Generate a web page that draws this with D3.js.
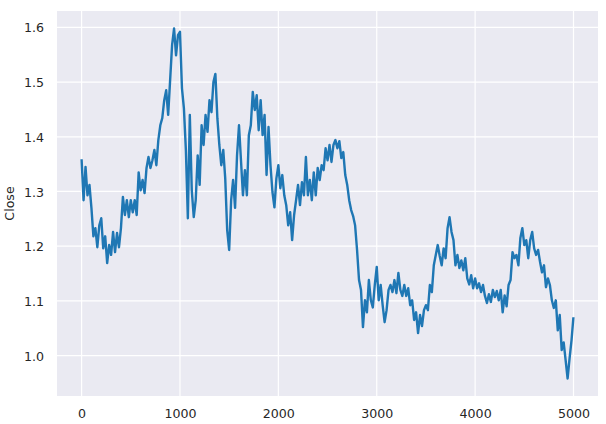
<!DOCTYPE html>
<html>
<head>
<meta charset="utf-8">
<script src="https://cdn.jsdelivr.net/npm/d3@7"></script>
<style>
  html, body { margin: 0; padding: 0; background: #ffffff; }
  svg { display: block; }
</style>
</head>
<body>
<svg id="chart" width="606" height="424"></svg>
<script>
const rowStep = 20;
const closeValues = [
  1.359, 1.284, 1.345, 1.293, 1.312, 1.270, 1.218, 1.233, 1.198, 1.238,
  1.251, 1.196, 1.218, 1.169, 1.202, 1.184, 1.226, 1.189, 1.224, 1.198,
  1.233, 1.290, 1.257, 1.284, 1.253, 1.284, 1.262, 1.284, 1.257, 1.335,
  1.302, 1.321, 1.297, 1.343, 1.363, 1.343, 1.357, 1.376, 1.348, 1.394,
  1.421, 1.434, 1.467, 1.485, 1.440, 1.504, 1.568, 1.598, 1.549, 1.586,
  1.592, 1.489, 1.452, 1.376, 1.251, 1.440, 1.302, 1.253, 1.284, 1.366,
  1.312, 1.421, 1.385, 1.440, 1.409, 1.467, 1.445, 1.500, 1.515, 1.434,
  1.385, 1.348, 1.376, 1.324, 1.229, 1.193, 1.284, 1.321, 1.270, 1.366,
  1.421, 1.357, 1.293, 1.339, 1.293, 1.403, 1.421, 1.482, 1.449, 1.476,
  1.412, 1.467, 1.403, 1.440, 1.330, 1.418, 1.348, 1.299, 1.271, 1.324,
  1.348, 1.306, 1.330, 1.293, 1.275, 1.238, 1.262, 1.211, 1.257, 1.284,
  1.312, 1.275, 1.317, 1.293, 1.363, 1.293, 1.321, 1.284, 1.335, 1.293,
  1.343, 1.321, 1.348, 1.339, 1.379, 1.357, 1.385, 1.354, 1.385, 1.394,
  1.379, 1.392, 1.361, 1.372, 1.330, 1.312, 1.284, 1.266, 1.255, 1.238,
  1.193, 1.138, 1.120, 1.052, 1.101, 1.079, 1.138, 1.101, 1.088, 1.129,
  1.162, 1.101, 1.129, 1.092, 1.061, 1.083, 1.120, 1.129, 1.116, 1.138,
  1.114, 1.151, 1.120, 1.109, 1.129, 1.109, 1.123, 1.092, 1.101, 1.065,
  1.079, 1.041, 1.074, 1.054, 1.083, 1.092, 1.083, 1.129, 1.116, 1.165,
  1.184, 1.202, 1.182, 1.165, 1.196, 1.178, 1.233, 1.253, 1.226, 1.211,
  1.165, 1.184, 1.160, 1.174, 1.156, 1.178, 1.141, 1.130, 1.147, 1.123,
  1.141, 1.123, 1.132, 1.116, 1.129, 1.109, 1.096, 1.112, 1.098, 1.120,
  1.107, 1.118, 1.101, 1.120, 1.079, 1.110, 1.090, 1.129, 1.138, 1.189,
  1.178, 1.184, 1.165, 1.215, 1.233, 1.202, 1.211, 1.178, 1.211, 1.226,
  1.196, 1.184, 1.193, 1.171, 1.152, 1.165, 1.125, 1.141, 1.129, 1.101,
  1.087, 1.101, 1.046, 1.074, 1.010, 1.024, 0.991, 0.958, 0.995, 1.028,
  1.070
];
const lastRow = 4999;
const xTicks = [0, 1000, 2000, 3000, 4000, 5000];
const yTicks = [1.0, 1.1, 1.2, 1.3, 1.4, 1.5, 1.6];
const yLabel = "Close";

(function draw() {
  const data = closeValues.map((v, i) => ({ row: Math.min(i * rowStep, lastRow), close: v }));

  const svg = d3.select("#chart");
  const W = 606, H = 424;
  const mL = 57, mR = 598, mT = 11, mB = 396;

  svg.append("rect").attr("x", 0).attr("y", 0).attr("width", W).attr("height", H).attr("fill", "#ffffff");

  // matplotlib-like 5% margins
  const xMin = 0, xMax = lastRow;
  const xPad = (xMax - xMin) * 0.05;
  const yMinD = d3.min(closeValues), yMaxD = d3.max(closeValues);
  const yPad = (yMaxD - yMinD) * 0.05;

  const x = d3.scaleLinear().domain([xMin - xPad, xMax + xPad]).range([mL, mR]);
  const y = d3.scaleLinear().domain([yMinD - yPad, yMaxD + yPad]).range([mB, mT]);

  svg.append("rect")
    .attr("x", mL).attr("y", mT)
    .attr("width", mR - mL).attr("height", mB - mT)
    .attr("fill", "#eaeaf2");

  const grid = svg.append("g");
  grid.selectAll("line.gx").data(xTicks).join("line")
    .attr("class", "gx")
    .attr("x1", d => x(d)).attr("x2", d => x(d))
    .attr("y1", mT).attr("y2", mB)
    .attr("stroke", "#ffffff").attr("stroke-width", 1.2);
  grid.selectAll("line.gy").data(yTicks).join("line")
    .attr("class", "gy")
    .attr("x1", mL).attr("x2", mR)
    .attr("y1", d => y(d)).attr("y2", d => y(d))
    .attr("stroke", "#ffffff").attr("stroke-width", 1.2);

  const font = "DejaVu Sans, sans-serif";
  const xAxis = d3.axisBottom(x).tickValues(xTicks).tickFormat(d3.format("d")).tickSize(0).tickPadding(0);
  const gx = svg.append("g").attr("transform", `translate(0,${mB})`).call(xAxis);
  gx.select(".domain").remove();
  gx.selectAll("text")
    .attr("y", 22).attr("dy", null)
    .attr("font-family", font).attr("font-size", "12.6px").attr("fill", "#262626");

  const yAxis = d3.axisLeft(y).tickValues(yTicks).tickFormat(d3.format(".1f")).tickSize(0).tickPadding(0);
  const gy = svg.append("g").attr("transform", `translate(${mL},0)`).call(yAxis);
  gy.select(".domain").remove();
  gy.selectAll("text")
    .attr("x", -13).attr("dy", "0.36em")
    .attr("font-family", font).attr("font-size", "12.6px").attr("fill", "#262626");

  svg.append("text")
    .attr("transform", `translate(14,${(mT + mB) / 2}) rotate(-90)`)
    .attr("text-anchor", "middle")
    .attr("font-family", font).attr("font-size", "12.6px").attr("fill", "#262626")
    .text(yLabel);

  const line = d3.line().x(d => x(d.row)).y(d => y(d.close));
  svg.append("path")
    .datum(data)
    .attr("fill", "none")
    .attr("stroke", "#1f77b4")
    .attr("stroke-width", 2.4)
    .attr("stroke-linejoin", "round")
    .attr("d", line);
})();
</script>
</body>
</html>
